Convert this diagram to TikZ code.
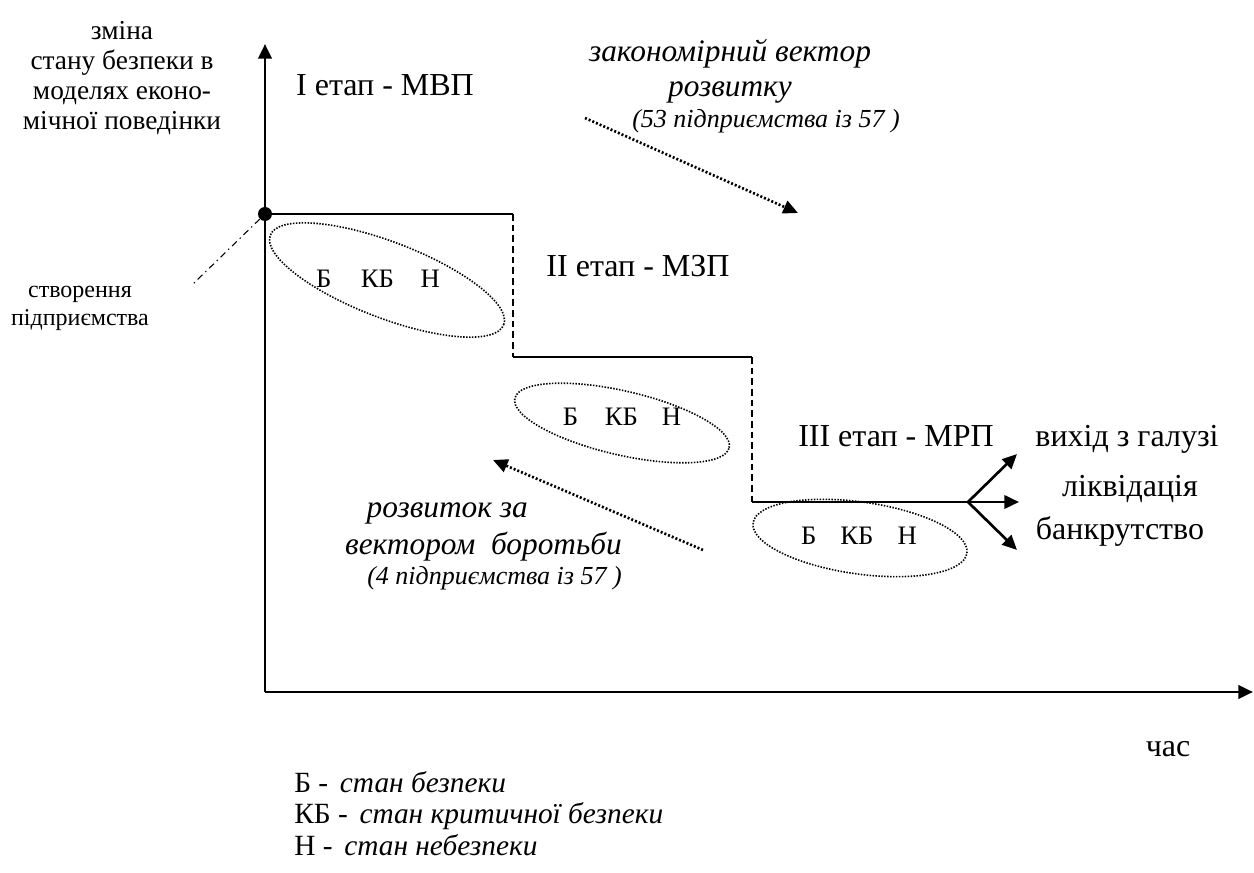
\documentclass[tikz,border=0pt]{standalone}
\usepackage{fontspec}
\setmainfont{Liberation Serif}
\usetikzlibrary{arrows.meta,shapes.geometric}
\begin{document}
\begin{tikzpicture}[x=0.75pt,y=-0.75pt,
  lbl/.style={inner sep=0pt,anchor=base,font=\fontsize{24}{28}\selectfont},
  zlbl/.style={inner sep=0pt,anchor=base,font=\fontsize{20}{24}\selectfont},
  ilbl/.style={inner sep=0pt,anchor=base,font=\fontsize{23.5}{27}\selectfont\itshape},
  slbl/.style={inner sep=0pt,anchor=base,font=\fontsize{19.5}{23}\selectfont\itshape},
  leg/.style={inner sep=0pt,anchor=base west,font=\fontsize{22}{26}\selectfont},
  axis/.style={line width=2.2pt,-{Triangle[length=11pt,width=10pt]}},
  stepline/.style={line width=1.5pt},
  stepdash/.style={line width=1.5pt,dash pattern=on 5pt off 3pt},
  zone/.style={draw,ellipse,line width=1.2pt,dash pattern=on 1.1pt off 1.1pt,inner sep=0pt},
  vec/.style={line width=2pt,dash pattern=on 1.5pt off 1.5pt,-{Triangle[length=11pt,width=10pt]}},
  branch/.style={line width=2pt,-{Triangle[length=11pt,width=10pt]}}]
\useasboundingbox (0,0) rectangle (1254,873);
% axes
\coordinate (O) at (265,692);
\coordinate (ytop) at (265,44);
\coordinate (xend) at (1253,692);
\draw[axis] (O) -- (ytop);
\draw[axis] (O) -- (xend);
% step line
\coordinate (s0) at (265,214);
\coordinate (s1) at (513,214);
\coordinate (s2) at (513,357);
\coordinate (s3) at (752,357);
\coordinate (s4) at (752,502);
\coordinate (s5) at (968,502);
\draw[stepline] (s0) -- (s1);
\draw[stepdash] (s1) -- (s2);
\draw[stepline] (s2) -- (s3);
\draw[stepdash] (s3) -- (s4);
\draw[stepline] (s4) -- (s5);
\node[circle,fill=black,minimum size=10.5pt,inner sep=0pt] (dot) at (s0) {};
% creation pointer
\coordinate (cp) at (193,284);
\draw[line width=0.8pt,dash pattern=on 5pt off 3pt on 1pt off 3pt] (dot) -- (cp);
\node[inner sep=0pt,font=\fontsize{18}{21}\selectfont,align=center] (create) at (80,308) {створення\\підприємства};
% branch arrows
\coordinate (b1) at (1017,454);
\coordinate (b2) at (1019,502);
\coordinate (b3) at (1017,550);
\draw[branch] (s5) -- (b1);
\draw[branch] (s5) -- (b2);
\draw[branch] (s5) -- (b3);
\node[lbl] (exit) at (1127,447) {вихід з галузі};
\node[lbl] (liq) at (1130,497) {ліквідація};
\node[lbl] (bank) at (1120,540) {банкрутство};
% zones
\node[zone,minimum width=187.5pt,minimum height=57pt,rotate=-21] (e1) at (387,280) {};
\node[zone,minimum width=165pt,minimum height=48pt,rotate=-13] (e2) at (622,423) {};
\node[zone,minimum width=162pt,minimum height=54pt,rotate=-8] (e3) at (860,538) {};
\node[zlbl] (t1) at (378,288) {Б\hspace{1.1em}КБ\hspace{1em}Н};
\node[zlbl] (t2) at (622,426) {Б\hspace{1em}КБ\hspace{0.9em}Н};
\node[zlbl] (t3) at (859,545) {Б\hspace{0.9em}КБ\hspace{0.9em}Н};
% stage labels
\node[lbl] (st1) at (385,96) {I етап - МВП};
\node[lbl] (st2) at (638,277) {II етап - МЗП};
\node[lbl] (st3) at (896,447) {III етап - МРП};
% y label
\node[inner sep=0pt,font=\fontsize{20.5}{22.5}\selectfont,align=center] (ylab) at (122,78) {зміна\\стану безпеки в\\моделях еконо-\\мічної поведінки};
\node[lbl] (time) at (1168,756) {час};
% vectors
\node[ilbl] (v1a) at (730,62) {закономірний вектор};
\node[ilbl] (v1b) at (730,97) {розвитку};
\node[slbl] (v1c) at (766,128) {(53 підприємства із 57 )};
\coordinate (a1s) at (585,118);
\coordinate (a1e) at (798,213);
\draw[vec] (a1s) -- (a1e);
\node[ilbl,anchor=base east] (v2a) at (528,518) {розвиток за};
\node[ilbl,anchor=base east] (v2b) at (622,555) {вектором\ \ боротьби};
\node[slbl,anchor=base east] (v2c) at (622,585) {(4 підприємства із 57 )};
\coordinate (a2s) at (703,550);
\coordinate (a2e) at (493,460);
\draw[vec] (a2s) -- (a2e);
% legend
\node[leg] (l1) at (294,792) {Б -\hspace{0.4em}\textit{стан безпеки}};
\node[leg] (l2) at (294,823) {КБ -\hspace{0.4em}\textit{стан критичної безпеки}};
\node[leg] (l3) at (294,855) {Н -\hspace{0.4em}\textit{стан небезпеки}};
\end{tikzpicture}
\end{document}
